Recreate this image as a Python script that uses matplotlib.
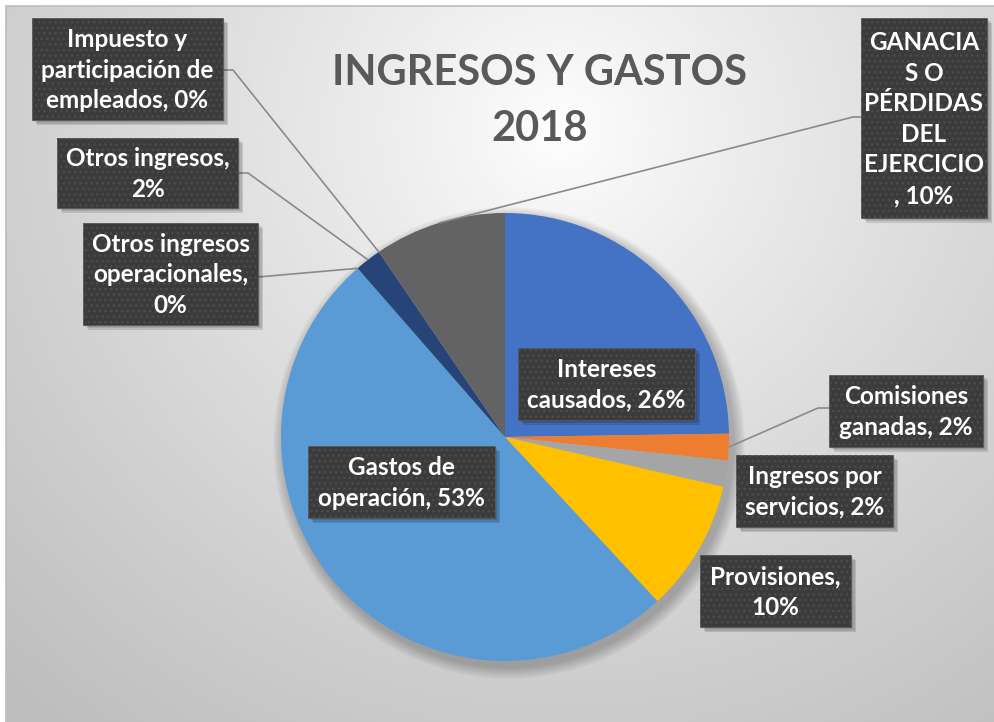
import numpy as np
import matplotlib
matplotlib.use("Agg")
import matplotlib.pyplot as plt
from matplotlib.patches import Rectangle, Circle

# data
categories = ["Intereses causados", "Comisiones ganadas", "Ingresos por servicios",
              "Provisiones", "Gastos de operación", "Otros ingresos operacionales",
              "Otros ingresos", "Impuesto y participación de empleados",
              "GANACIAS O PÉRDIDAS DEL EJERCICIO"]
values = [26, 2, 2, 10, 53, 0, 2, 0, 10]
label_texts = ["Intereses\ncausados, 26%", "Comisiones\nganadas, 2%",
               "Ingresos por\nservicios, 2%", "Provisiones,\n10%",
               "Gastos de\noperación, 53%", "Otros ingresos\noperacionales,\n0%",
               "Otros ingresos,\n2%", "Impuesto y\nparticipación de\nempleados, 0%",
               "GANACIA\nS O\nPÉRDIDAS\nDEL\nEJERCICIO\n, 10%"]
colors = ["#4472C4", "#ED7D31", "#A5A5A5", "#FFC000", "#5B9BD5",
          "#70AD47", "#264478", "#9E480E", "#636363"]
title = "INGRESOS Y GASTOS\n2018"

W, H = 995, 722
FONT = ["Lato", "DejaVu Sans"]

# label boxes in pixel coords (x0, y0, x1, y1), y from top
boxes = [(518, 348, 695, 420), (829, 375, 983, 447), (736, 455, 893, 527),
         (700, 555, 851, 627), (308, 446, 495, 518), (83, 223, 258, 325),
         (57, 138, 238, 208), (32, 18, 223, 120), (861, 18, 987, 218)]
# leader start: (box edge x, y, elbow x) for labels outside the pie
leaders = {1: (829, 408, 818), 5: (258, 277, 258), 6: (238, 173, 248),
           7: (223, 70, 233), 8: (861, 117, 853)}


def Y(py):
    return H - py


fig = plt.figure(figsize=(W / 100, H / 100), dpi=100)
fig.patch.set_facecolor("white")
ax = fig.add_axes([0, 0, 1, 1])

# gradient background
xx, yy = np.meshgrid(np.arange(6, W), np.arange(6, H))
d = np.hypot(xx - 560, (yy - 130) * 1.05) / 820.0
shade = np.clip(255 - 66 * d ** 0.85, 190, 255) / 255.0
img = np.dstack([shade, shade, shade])
ax.imshow(img, extent=(6, W, 0, Y(6)), origin="upper", zorder=0, interpolation="bilinear")
ax.plot([6, 6, W], [0, Y(6), Y(6)], color="#bdbdbd", lw=1.2, zorder=0.5)

cx, cy, r = 505, Y(437), 224

# soft pie shadow
for k in range(12):
    ax.add_patch(Circle((cx + 4, cy - 6), r + 12 - k, color="black",
                        alpha=0.018, lw=0, zorder=0.8))

wedges, _ = ax.pie(values, colors=colors, startangle=90, counterclock=False,
                   center=(cx, cy), radius=r, wedgeprops=dict(linewidth=0))
for w in wedges:
    w.set_zorder(1)

# leader lines
for i, (bx, by, ex) in leaders.items():
    w = wedges[i]
    a = np.deg2rad((w.theta1 + w.theta2) / 2)
    px, py = cx + r * np.cos(a), cy + r * np.sin(a)
    ax.plot([bx, ex, px], [Y(by), Y(by), py], color="#8a8a8a", lw=1.2,
            zorder=2, solid_capstyle="butt")

# label boxes
for i, (x0, y0, x1, y1) in enumerate(boxes):
    for k, al in enumerate([0.10, 0.10, 0.12]):
        off = 2 + k * 1.5
        ax.add_patch(Rectangle((x0 + off, Y(y1) - off), x1 - x0, y1 - y0,
                               facecolor="black", alpha=al, lw=0, zorder=3))
    ax.add_patch(Rectangle((x0, Y(y1)), x1 - x0, y1 - y0, facecolor="#3b3b3b",
                           edgecolor="#5a5a5a", lw=0.6, zorder=4))
    ax.add_patch(Rectangle((x0, Y(y1)), x1 - x0, y1 - y0, facecolor="none",
                           edgecolor="#4c4c4c", hatch="...", lw=0, zorder=4.2))
    ax.text((x0 + x1) / 2, Y((y0 + y1) / 2) - 1, label_texts[i], ha="center",
            va="center", color="white", fontsize=17.5, fontweight="bold",
            family=FONT, linespacing=1.4, zorder=5)

ax.text(540, Y(101), title, ha="center", va="center", color="#595959",
        fontsize=30, fontweight="bold", family=FONT, linespacing=1.55, zorder=5)

ax.set_xlim(0, W)
ax.set_ylim(0, H)
ax.set_aspect("equal")
ax.axis("off")

fig.savefig("out.png", dpi=100)
